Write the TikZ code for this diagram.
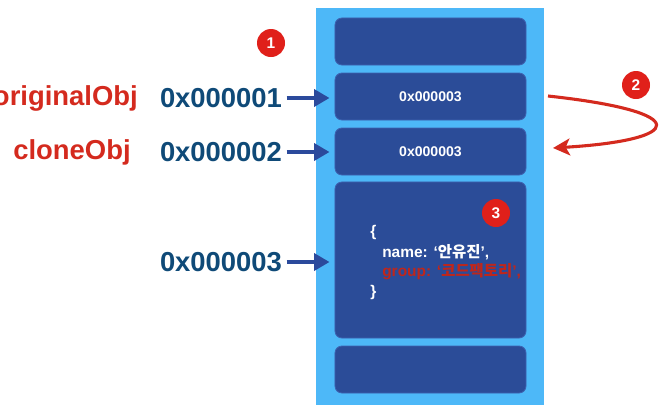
\documentclass[tikz,border=0pt]{standalone}
\usepackage{fontspec}
\setmainfont{Liberation Sans}
\newfontfamily\krfont{Noto Sans CJK KR}
\usetikzlibrary{arrows.meta, positioning}

\definecolor{stackblue}{HTML}{4DB8F8}
\definecolor{cellblue}{HTML}{2B4C98}
\definecolor{celledge}{HTML}{3D62B0}
\definecolor{addrblue}{HTML}{0F4A78}
\definecolor{pointblue}{HTML}{2B4A9C}
\definecolor{labelred}{HTML}{D42A1E}
\definecolor{badgered}{HTML}{E0201A}

\begin{document}
\begin{tikzpicture}[x=0.025cm, y=-0.025cm,
  cell/.style={rectangle, rounded corners=5pt, fill=cellblue, draw=celledge,
    line width=0.6pt, minimum width=4.775cm, minimum height=1.175cm,
    inner sep=0pt, text=white, font=\bfseries\fontsize{10}{12}\selectfont},
  addr/.style={text=addrblue, inner sep=3pt, font=\bfseries\fontsize{19.5}{22}\selectfont},
  varname/.style={text=labelred, inner sep=0pt, font=\bfseries\fontsize{19.5}{22}\selectfont},
  badge/.style={circle, fill=badgered, minimum size=0.7cm, inner sep=0pt,
    text=white, font=\bfseries\fontsize{11}{12}\selectfont},
  code/.style={anchor=west, inner sep=0pt, text=white, font=\bfseries\fontsize{11}{13}\selectfont},
  pointer/.style={-{Triangle[length=11pt, width=12pt]}, line width=3pt, draw=pointblue, shorten >=0.125cm},
  copyarrow/.style={-{Stealth[length=12pt, width=12pt, inset=3pt]}, line width=2.2pt, draw=labelred}]
  \useasboundingbox (0,0) rectangle (671,410);

  % memory column
  \fill[stackblue] (316,8) rectangle (544,405);
  \node[cell] (cellA) at (430.5,41.5) {};
  \node[cell] (cellB) at (430.5,96.5) {0x000003};
  \node[cell] (cellC) at (430.5,151.5) {0x000003};
  \node[cell, minimum height=3.9cm] (cellD) at (430.5,260) {};
  \node[cell] (cellE) at (430.5,369.5) {};

  % object in heap
  \node[code] (codeopen) at (370,232) {\{};
  \node[code] (codename) at (382,252) {name: ‘{\krfont 안유진}’,};
  \node[code, text=labelred!90!black] (codegroup) at (382,272) {group: ‘{\krfont 코드팩토리}’,};
  \node[code] (codeclose) at (370,292) {\}};

  % variables and addresses
  \node[varname, anchor=east] (origname) at (138,98) {originalObj};
  \node[varname] (clonename) at (72,152) {cloneObj};
  \node[addr] (addrA) at (221,98) {0x000001};
  \node[addr] (addrB) at (221,152) {0x000002};
  \node[addr] (addrC) at (221,262) {0x000003};

  \draw[pointer] (addrA.east) -- (addrA.east -| cellB.west);
  \draw[pointer] (addrB.east) -- (addrB.east -| cellC.west);
  \draw[pointer] (addrC.east) -- (addrC.east -| cellD.west);

  % copy of the reference
  \coordinate (copyfrom) at (548,96);
  \coordinate (copyto) at (553,148);
  \draw[copyarrow] (copyfrom) .. controls (695,112) and (685,140) .. (copyto);

  % steps
  \node[badge] (stepone) at (271,43) {1};
  \node[badge] (steptwo) at (636,85) {2};
  \node[badge] (stepthree) at (496,213) {3};
\end{tikzpicture}
\end{document}
